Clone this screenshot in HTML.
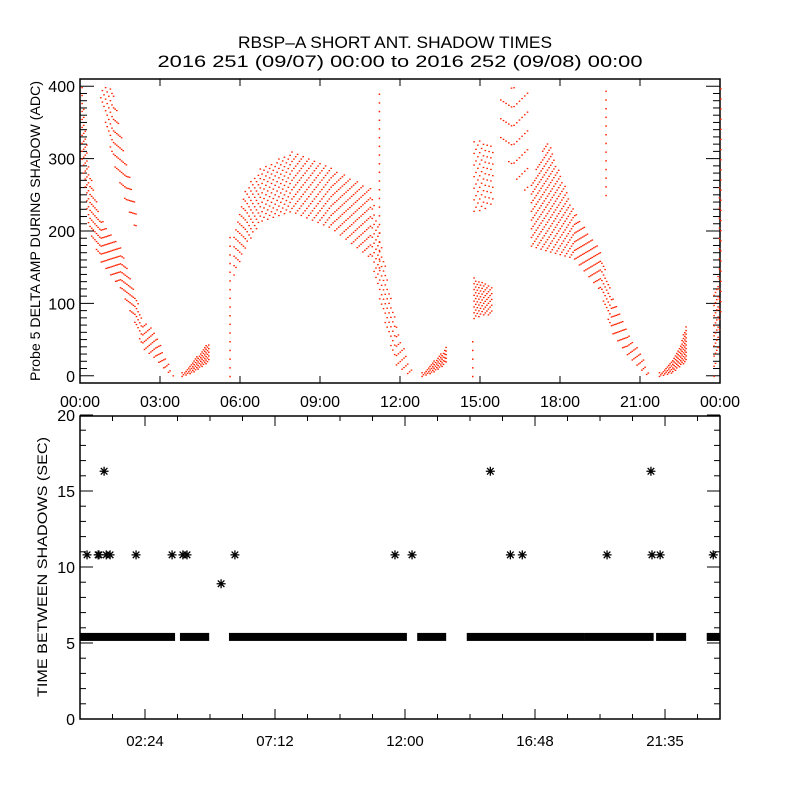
<!DOCTYPE html>
<html><head><meta charset="utf-8"><style>
html,body{margin:0;padding:0;background:#fff;}
svg{display:block;font-family:"Liberation Sans",sans-serif;}
</style></head><body>
<svg id="chart" width="800" height="800" viewBox="0 0 800 800">
<rect width="800" height="800" fill="#fff"/>
<text x="395" y="48" font-size="17" text-anchor="middle" textLength="314" lengthAdjust="spacingAndGlyphs">RBSP–A SHORT ANT. SHADOW TIMES</text>
<text x="400" y="67" font-size="17" text-anchor="middle" textLength="485" lengthAdjust="spacingAndGlyphs">2016 251 (09/07) 00:00 to 2016 252 (09/08) 00:00</text>
<g id="topPanel"></g>
<g id="botPanel"></g>
<text transform="translate(40,231) rotate(-90)" font-size="14" text-anchor="middle" textLength="300" lengthAdjust="spacingAndGlyphs">Probe 5 DELTA AMP DURING SHADOW (ADC)</text>
<text transform="translate(47,567) rotate(-90)" font-size="14" text-anchor="middle" textLength="260" lengthAdjust="spacingAndGlyphs">TIME BETWEEN SHADOWS (SEC)</text>
</svg>
<script>
// ---- top panel data: bands of shadow amplitude (hours, ADC lo/hi) ----
const bandTimes = [
 [0.05,0.3,0.75,1.5,2.06,2.3,2.8,3.2,3.5],
 [0.75,1.2,1.7,2.1],
 [3.8,4.2,4.6,4.8],
 [5.75,6.2,6.75,7.9,9.4,10.9,11.25,11.8,12.4],
 [12.8,13.2,13.6,13.7],
 [14.75,15.1,15.45],
 [14.75,15.1,15.45],
 [15.75,16.2,16.8],
 [16.9,17.5,18.5,19.5,19.9,20.5,21.0,21.3],
 [21.7,22.2,22.5,22.7],
 [23.75,23.9,24.0]
];
const bandLo = [
 [300,205,159,122,72,40,25,8,0],
 [385,300,240,200],
 [0,5,15,20],
 [140,180,214,228,205,163,100,17,0],
 [0,5,15,20],
 [80,85,85],
 [228,230,240],
 [330,280,250],
 [180,173,163,118,62,30,10,0],
 [0,5,15,20],
 [0,40,80]
];
const bandHi = [
 [400,290,219,177,113,80,60,25,3],
 [400,400,300,230],
 [5,20,40,45],
 [200,260,288,311,288,260,191,76,10],
 [5,20,35,40],
 [136,130,125],
 [330,325,320],
 [400,400,400],
 [270,330,228,173,118,60,35,5],
 [5,25,45,70],
 [120,140,400]
];
const bandStepT = [0.06,0.06,0.05,0.07,0.05,0.06,0.07,0.1,0.06,0.05,0.05];
const bandStepV = [11,16,5,13,5,8,16,26,12,5,14];
const streakT = [5.6,11.2,14.7,19.7];
const streakLo = [0,150,0,250];
const streakHi = [200,390,50,400];

// ---- bottom panel data (hours) ----
const segStart = [0.0,3.69,5.50,12.45,14.28,18.61,21.27,23.14];
const segEnd   = [3.51,4.77,12.07,13.52,18.61,21.18,22.38,23.63];
const segVal = 5.4;
const starT = [0.26,0.67,0.70,0.97,1.11,2.07,3.40,3.80,3.95,5.21,5.72,0.89,11.63,12.26,15.15,15.89,16.33,19.46,21.08,21.12,21.42,23.38];
const starV = [10.8,10.8,10.8,10.8,10.8,10.8,10.8,10.8,10.8,8.9,10.8,16.3,10.8,10.8,16.3,10.8,10.8,10.8,16.3,10.8,10.8,10.8];
const topYTicks = [0,100,200,300,400];
const topXLabels = ["00:00","03:00","06:00","09:00","12:00","15:00","18:00","21:00","00:00"];
const botYTicks = [0,5,10,15,20];
const botXLabels = ["02:24","07:12","12:00","16:48","21:35"];

const NS="http://www.w3.org/2000/svg";
function mk(tag,attrs,parent){const e=document.createElementNS(NS,tag);for(const k in attrs)e.setAttribute(k,attrs[k]);parent.appendChild(e);return e;}
const L=80,R=720;
const xT=h=>L+(R-L)*h/24;
const xB=h=>L+(R-L)*h/23.63;
const yTop=v=>383-(v+10)*(304/420);
const yBot=v=>719-v*15.2;
const topG=document.getElementById('topPanel'), botG=document.getElementById('botPanel');

let b=mk('rect',{x:L,y:79,width:R-L,height:304,fill:'none',stroke:'#000','stroke-width':1.5},topG);


for(let v=-10;v<=410;v+=10){
  const len=(v%100===0)?14:7;const y=yTop(v);
  mk('line',{x1:L,y1:y,x2:L+len,y2:y,stroke:'#000'},topG);
  mk('line',{x1:R,y1:y,x2:R-len,y2:y,stroke:'#000'},topG);
}
topYTicks.forEach(v=>{
  const t=mk('text',{x:75,y:yTop(v)+6,'font-size':16,'text-anchor':'end'},topG);t.textContent=v;
  
  
});
topXLabels.forEach((s,i)=>{
  const x=xT(i*3);
  mk('line',{x1:x,y1:79,x2:x,y2:86,stroke:'#000'},topG);
  mk('line',{x1:x,y1:383,x2:x,y2:376,stroke:'#000'},topG);
  const t=mk('text',{x:x,y:407,'font-size':16,'text-anchor':'middle'},topG);t.textContent=s;
  
  
});
const dots=mk('g',{fill:'#ff2200'},topG);


function interp(ts,vs,t){for(let i=0;i<ts.length-1;i++){if(t>=ts[i]&&t<=ts[i+1]){const f=(t-ts[i])/(ts[i+1]-ts[i]);return vs[i]+f*(vs[i+1]-vs[i]);}}return vs[vs.length-1];}
bandTimes.forEach((ts,bi)=>{
  const dt=bandStepT[bi],dv=bandStepV[bi];let k=0;
  for(let t=ts[0];t<=ts[ts.length-1]+1e-9;t+=dt,k++){
    const lo=interp(ts,bandLo[bi],t),hi=interp(ts,bandHi[bi],t);
    for(let v=lo+((k%3)*dv/3);v<=hi;v+=dv){
      if(v>405)continue;
      mk('rect',{x:xT(t).toFixed(1),y:yTop(v).toFixed(1),width:1.6,height:1.3},dots);
    }
  }
});
streakT.forEach((t,i)=>{
  for(let v=streakLo[i];v<=streakHi[i];v+=12)
    mk('rect',{x:xT(t).toFixed(1),y:yTop(v).toFixed(1),width:1.5,height:1.5},dots);
});

b=mk('rect',{x:L,y:416,width:R-L,height:303,fill:'none',stroke:'#000','stroke-width':1.5},botG);


for(let v=0;v<=20;v+=1){
  const len=(v%5===0)?13:6;const y=yBot(v);
  mk('line',{x1:L,y1:y,x2:L+len,y2:y,stroke:'#000'},botG);
  mk('line',{x1:R,y1:y,x2:R-len,y2:y,stroke:'#000'},botG);
}
botYTicks.forEach(v=>{
  const t=mk('text',{x:75,y:yBot(v)+6,'font-size':16,'text-anchor':'end'},botG);t.textContent=v;
  
  
});
for(let i=1;i<20;i++){
  const x=xB(i*1.2);const major=(i%4===2);const len=major?10:5;
  mk('line',{x1:x,y1:416,x2:x,y2:416+len,stroke:'#000'},botG);
  mk('line',{x1:x,y1:719,x2:x,y2:719-len,stroke:'#000'},botG);
}
botXLabels.forEach((s,i)=>{
  const t=mk('text',{x:xB(2.4+i*4.8),y:746,'font-size':15,'text-anchor':'middle'},botG);t.textContent=s;
  
  
});
const segG=mk('g',{fill:'#000'},botG);


segStart.forEach((s,i)=>{
  const r=mk('rect',{x:xB(s),y:yBot(segVal)-4,width:Math.max(1,xB(segEnd[i])-xB(s)),height:8},segG);
  
  
});
const starG=mk('g',{stroke:'#000','stroke-width':1.3},botG);


starT.forEach((t,i)=>{
  const x=xB(t),y=yBot(starV[i]);
  const s=mk('path',{d:`M${x-4.5},${y}H${x+4.5}M${x},${y-4.5}V${y+4.5}M${x-3.3},${y-3.3}L${x+3.3},${y+3.3}M${x-3.3},${y+3.3}L${x+3.3},${y-3.3}`},starG);
  
  
});
</script>
</body></html>
